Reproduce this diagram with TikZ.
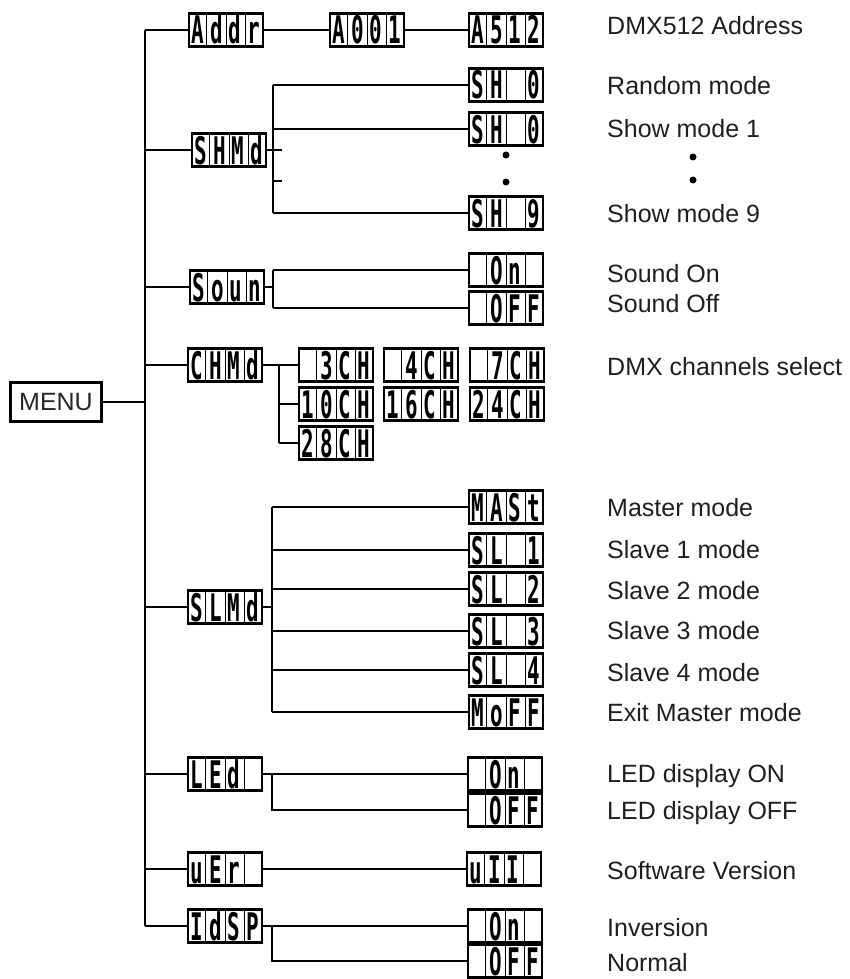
\documentclass[tikz,border=0pt]{standalone}
\usepackage{fontspec}
\setmainfont{Liberation Sans}
\newfontfamily\lcdfont{DejaVu Sans Mono}
\usetikzlibrary{calc}
\tikzset{
  conn/.style={line width=2.6pt},
  lcdbox/.style={draw, line width=2.6pt, minimum width=74pt, minimum height=33pt, inner sep=0pt},
  cellsep/.style={line width=0.8pt},
  lcdch/.style={anchor=base, inner sep=0pt, font=\lcdfont\bfseries\fontsize{38}{38}\selectfont},
  lbl/.style={anchor=base west, inner sep=0pt, font=\fontsize{25}{30}\selectfont, text=black!88},
  menubox/.style={draw, line width=2.4pt, minimum width=91pt, minimum height=39pt, inner sep=0pt, font=\fontsize{25}{30}\selectfont, text=black!85},
  bigdot/.style={circle, fill, inner sep=0pt, minimum size=7pt}
}
\newcommand{\lcdunit}[6]{%
  \node[lcdbox] (#1) at #2 {};
  \foreach \k in {1,2,3}{\draw[cellsep] ($(#1.north west)!\k/4!(#1.north east)$) -- ($(#1.south west)!\k/4!(#1.south east)$);}
  \node[lcdch] at ($(#1.center)+(-27.75,14)$) {\scalebox{0.55}[1]{#3}};
  \node[lcdch] at ($(#1.center)+(-9.25,14)$) {\scalebox{0.55}[1]{#4}};
  \node[lcdch] at ($(#1.center)+(9.25,14)$) {\scalebox{0.55}[1]{#5}};
  \node[lcdch] at ($(#1.center)+(27.75,14)$) {\scalebox{0.55}[1]{#6}};
}
\begin{document}
\begin{tikzpicture}[x=1pt,y=-1pt]
\useasboundingbox (0,0) rectangle (849,979);

% menu and trunk
\node[menubox] (menu) at (56,402) {MENU};
\coordinate (tr) at (145,0);

% level 1
\lcdunit{addr}{(226,30)}{A}{d}{d}{r}
\lcdunit{shmd}{(229,150)}{S}{H}{M}{d}
\lcdunit{soun}{(227,287)}{S}{o}{u}{n}
\lcdunit{chmd}{(225,365)}{C}{H}{M}{d}
\lcdunit{slmd}{(225,607)}{S}{L}{M}{d}
\lcdunit{led}{(225,774)}{L}{E}{d}{}
\lcdunit{ver}{(225,869)}{u}{E}{r}{}
\lcdunit{idsp}{(225,926)}{I}{d}{S}{P}

% address
\lcdunit{a001}{(367,30)}{A}{0}{0}{1}
\lcdunit{a512}{(506,30)}{A}{5}{1}{2}

% show modes
\lcdunit{sh0}{(506,85)}{S}{H}{}{0}
\lcdunit{sh1}{(506,129)}{S}{H}{}{0}
\lcdunit{sh9}{(506,213)}{S}{H}{}{9}
\node[bigdot] (sd1) at (506,155) {};
\node[bigdot] (sd2) at (506,182) {};

% sound
\lcdunit{son}{(506,270)}{}{O}{n}{}
\lcdunit{soff}{(506,308)}{}{O}{F}{F}

% channels
\lcdunit{c3}{(336,365)}{}{3}{C}{H}
\lcdunit{c4}{(421,365)}{}{4}{C}{H}
\lcdunit{c7}{(507,365)}{}{7}{C}{H}
\lcdunit{c10}{(336,404)}{1}{0}{C}{H}
\lcdunit{c16}{(421,404)}{1}{6}{C}{H}
\lcdunit{c24}{(507,404)}{2}{4}{C}{H}
\lcdunit{c28}{(336,443)}{2}{8}{C}{H}

% master/slave
\lcdunit{mast}{(506,507)}{M}{A}{S}{t}
\lcdunit{sl1}{(506,550)}{S}{L}{}{1}
\lcdunit{sl2}{(506,589)}{S}{L}{}{2}
\lcdunit{sl3}{(506,631)}{S}{L}{}{3}
\lcdunit{sl4}{(506,670)}{S}{L}{}{4}
\lcdunit{moff}{(506,712)}{M}{o}{F}{F}

% led
\lcdunit{lon}{(505,774)}{}{O}{n}{}
\lcdunit{loff}{(505,810)}{}{O}{F}{F}

% version
\lcdunit{v11}{(504,869)}{u}{I}{I}{}

% idsp
\lcdunit{ion}{(505,926)}{}{O}{n}{}
\lcdunit{ioff}{(505,961)}{}{O}{F}{F}

% connectors: trunk
\draw[conn] (menu.east) -- (menu.east -| tr);
\draw[conn] (addr.west -| tr) -- (idsp.west -| tr);
\foreach \n in {addr,shmd,soun,chmd,slmd,led,ver,idsp}{\draw[conn] (\n.west -| tr) -- (\n.west);}

% address
\draw[conn] (addr.east) -- (a001.west);
\draw[conn] (a001.east) -- (a512.west);

% show mode bus
\coordinate (shb) at (273,0);
\coordinate (shs1) at (282,150);
\coordinate (shs2) at (282,181);
\draw[conn] (sh0.west -| shb) -- (sh9.west -| shb);
\foreach \n in {sh0,sh1,sh9}{\draw[conn] (\n.west -| shb) -- (\n.west);}
\draw[conn] (shmd.east) -- (shs1);
\draw[conn] (shs2 -| shb) -- (shs2);

% sound bus
\coordinate (sb) at (273,0);
\draw[conn] (son.west -| sb) -- (soff.west -| sb);
\draw[conn] (soun.east) -- (soun.east -| sb);
\foreach \n in {son,soff}{\draw[conn] (\n.west -| sb) -- (\n.west);}

% channel bus
\coordinate (cb) at (279,0);
\draw[conn] (chmd.east) -- (c3.west);
\draw[conn] (c3.west -| cb) -- (c28.west -| cb);
\foreach \n in {c10,c28}{\draw[conn] (\n.west -| cb) -- (\n.west);}

% slave bus
\coordinate (mb) at (272,0);
\draw[conn] (mast.west -| mb) -- (moff.west -| mb);
\draw[conn] (slmd.east) -- (slmd.east -| mb);
\foreach \n in {mast,sl1,sl2,sl3,sl4,moff}{\draw[conn] (\n.west -| mb) -- (\n.west);}

% led bus
\coordinate (lb) at (272,0);
\draw[conn] (led.east) -- (lon.west);
\draw[conn] (lon.west -| lb) -- (loff.west -| lb) -- (loff.west);

% version
\draw[conn] (ver.east) -- (v11.west);

% idsp bus
\coordinate (ib) at (272,0);
\draw[conn] (idsp.east) -- (ion.west);
\draw[conn] (ion.west -| ib) -- (ioff.west -| ib) -- (ioff.west);

% labels
\node[lbl] (t1) at (607,35) {DMX512 Address};
\node[lbl] (t2) at (607,95) {Random mode};
\node[lbl] (t3) at (607,137) {Show mode 1};
\node[bigdot] (td1) at (693,157) {};
\node[bigdot] (td2) at (693,180) {};
\node[lbl] (t4) at (607,222) {Show mode 9};
\node[lbl] (t5) at (607,282) {Sound On};
\node[lbl] (t6) at (607,312) {Sound Off};
\node[lbl] (t7) at (607,375) {DMX channels select};
\node[lbl] (t8) at (607,516) {Master mode};
\node[lbl] (t9) at (607,558) {Slave 1 mode};
\node[lbl] (t10) at (607,599) {Slave 2 mode};
\node[lbl] (t11) at (607,639) {Slave 3 mode};
\node[lbl] (t12) at (607,681) {Slave 4 mode};
\node[lbl] (t13) at (607,721) {Exit Master mode};
\node[lbl] (t14) at (607,782) {LED display ON};
\node[lbl] (t15) at (607,819) {LED display OFF};
\node[lbl] (t16) at (607,879) {Software Version};
\node[lbl] (t17) at (607,936) {Inversion};
\node[lbl] (t18) at (607,971) {Normal};
\end{tikzpicture}
\end{document}
